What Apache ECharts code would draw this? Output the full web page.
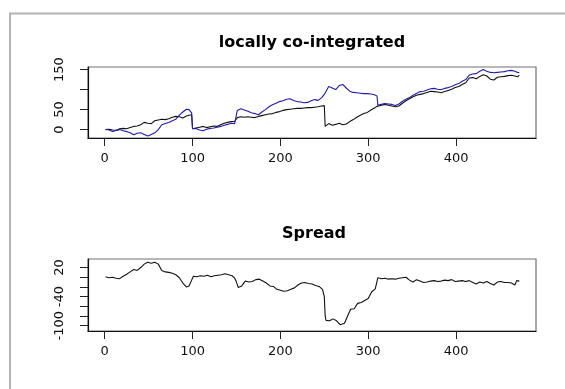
<!DOCTYPE html>
<html>
<head>
<meta charset="utf-8">
<script src="https://cdn.jsdelivr.net/npm/echarts@6/dist/echarts.min.js"></script>
<style>
  html, body { margin: 0; padding: 0; background: #ffffff; }
  #chart { width: 565px; height: 389px; }
</style>
</head>
<body>
<div id="chart"></div>
<script>
// Time index shared by the two price series (upper panel)
const pairTime = [
  1, 5, 9, 13, 17, 21, 25, 29, 33, 37, 41, 45, 49, 53, 57, 61, 65, 69, 73, 77,
  81, 85, 89, 93, 96, 99, 100, 104, 108, 112, 116, 120, 124, 128, 132, 136, 140, 144, 148, 150,
  151, 155, 159, 163, 167, 171, 175, 179, 183, 187, 191, 195, 199, 203, 207, 211, 215, 219, 223, 227,
  231, 235, 239, 243, 247, 250, 251, 255, 259, 263, 267, 271, 275, 279, 283, 287, 291, 295, 299, 303,
  307, 310, 311, 315, 319, 323, 327, 331, 335, 339, 343, 347, 351, 355, 359, 363, 367, 371, 375, 379,
  383, 387, 391, 395, 399, 403, 407, 411, 415, 419, 423, 427, 431, 435, 439, 443, 447, 451, 455, 459,
  463, 467, 470, 472
];

// First series (black)
const seriesA = [
  0, 1, -1, -2, 2, 3, 2, 5, 8, 9, 12, 18, 16, 15, 22, 24, 26, 25, 27, 31,
  33, 32, 29, 34, 36, 37, 2, 4, 6, 8, 5, 7, 9, 8, 12, 16, 18, 20, 21, 20,
  30, 32, 31, 32, 31, 30, 33, 35, 37, 39, 40, 43, 45, 48, 50, 51, 52, 53, 53, 54,
  55, 55, 56, 57, 59, 60, 8, 15, 11, 13, 16, 12, 14, 20, 25, 31, 36, 40, 43, 49,
  54, 58, 60, 61, 63, 61, 59, 57, 59, 66, 72, 77, 82, 86, 88, 90, 93, 96, 95, 94,
  92, 95, 98, 101, 105, 108, 113, 117, 129, 130, 127, 133, 137, 134, 126, 124, 131, 132, 133, 135,
  136, 134, 132, 136
];

// Second series (blue)
const seriesB = [
  1, -1, -5, -2, 0, -3, -5, -8, -13, -9, -8, -12, -16, -12, -8, 0, 12, 15, 18, 22,
  26, 36, 44, 51, 50, 42, 2, 3, -1, -3, 1, 3, 4, 6, 8, 11, 13, 16, 15, 18,
  48, 52, 49, 46, 42, 40, 37, 44, 50, 57, 62, 66, 70, 72, 76, 77, 73, 70, 69, 67,
  68, 72, 75, 73, 80, 88, 92, 108, 104, 100, 110, 113, 104, 96, 93, 92, 91, 90, 90, 89,
  87, 84, 61, 63, 65, 64, 63, 60, 64, 71, 76, 80, 86, 90, 95, 96, 99, 102, 103, 101,
  100, 103, 105, 108, 112, 115, 121, 125, 136, 139, 140, 146, 150, 146, 143, 142, 143, 144, 145, 147,
  148, 146, 143, 142
];

// Spread (lower panel)
const spreadTime = [
  1, 5, 9, 13, 17, 21, 25, 29, 33, 37, 41, 45, 49, 53, 57, 61, 65, 69, 73, 77,
  81, 85, 89, 93, 96, 99, 101, 105, 109, 113, 117, 121, 125, 129, 133, 137, 141, 145, 148, 150,
  152, 156, 160, 164, 168, 172, 176, 180, 184, 188, 192, 196, 200, 204, 208, 212, 216, 220, 224, 228,
  232, 236, 240, 244, 248, 250, 251, 252, 256, 260, 264, 268, 270, 273, 277, 280, 284, 288, 292, 296,
  300, 304, 308, 310, 311, 315, 319, 323, 327, 331, 335, 339, 343, 347, 351, 355, 359, 363, 367, 371,
  375, 379, 383, 387, 391, 395, 399, 403, 407, 411, 415, 419, 423, 427, 431, 435, 439, 443, 447, 451,
  455, 459, 463, 467, 469, 472
];
const spreadValues = [
  1, -1, 0, -2, -3, 2, 6, 11, 16, 14, 20, 27, 31, 29, 31, 27, 14, 11, 10, 8,
  5, -1, -12, -20, -18, -6, 2, 1, 3, 2, 4, 1, 3, 4, 5, 7, 5, 3, -2, -10,
  -21, -18, -8, -10, -9, -5, -4, -8, -12, -18, -19, -25, -27, -29, -28, -25, -22, -16, -12, -11,
  -13, -14, -17, -19, -25, -40, -80, -89, -90, -86, -90, -98, -102, -95, -78, -66, -65, -54, -52, -48,
  -44, -30, -24, -22, -1, -3, -2, -4, -3, -4, -2, -1, 0, -6, -10, -5, -8, -11, -10, -8,
  -7, -9, -8, -6, -7, -5, -9, -8, -7, -9, -7, -11, -14, -10, -12, -9, -13, -16, -10, -9,
  -11, -11, -12, -16, -7, -8
];

// Axis ticks and labels
const xTicks = [0, 100, 200, 300, 400];
const pairYTicks = [0, 50, 100, 150];
const pairYLabels = [0, 50, 150];
const spreadYTicks = [20, 0, -20, -40, -60, -80, -100];
const spreadYLabels = [20, -40, -100];
const panelTitles = ['locally co-integrated', 'Spread'];

const zip = (xs, ys) => xs.map((x, i) => [x, ys[i]]);

const axisFont = { fontFamily: 'DejaVu Sans', fontSize: 13, color: '#111' };

function xAxisFor(gridIndex) {
  return {
    gridIndex, type: 'value', min: -19, max: 491,
    axisLine: { show: true, onZero: false, lineStyle: { color: '#111', width: 1.2 } },
    splitLine: { show: false },
    axisTick: { show: true, length: 8, customValues: xTicks, lineStyle: { color: '#222' } },
    axisLabel: Object.assign({ customValues: xTicks, margin: 14 }, axisFont)
  };
}

function yAxisFor(gridIndex, min, max, ticks, labels) {
  return {
    gridIndex, type: 'value', min, max,
    axisLine: { show: true, onZero: false, lineStyle: { color: '#111', width: 1.2 } },
    splitLine: { show: false },
    axisTick: { show: true, length: 8, customValues: ticks, lineStyle: { color: '#222' } },
    axisLabel: Object.assign({ customValues: labels, rotate: 90, margin: 22 }, axisFont)
  };
}

const chart = echarts.init(document.getElementById('chart'), null, { renderer: 'canvas' });

chart.setOption({
  animation: false,
  backgroundColor: '#ffffff',
  grid: [
    { left: 88, top: 67, width: 448, height: 71, show: true, borderColor: '#707070', borderWidth: 1.2 },
    { left: 88, top: 259, width: 448, height: 72, show: true, borderColor: '#707070', borderWidth: 1.2 }
  ],
  xAxis: [xAxisFor(0), xAxisFor(1)],
  yAxis: [
    yAxisFor(0, -21, 156.5, pairYTicks, pairYLabels),
    yAxisFor(1, -111, 37.6, spreadYTicks, spreadYLabels)
  ],
  graphic: [
    {
      type: 'polyline', silent: true,
      shape: { points: [[10, 389], [10, 13.5], [565, 13.5]] },
      style: { stroke: '#b4b4b4', lineWidth: 2, fill: null }
    },
    {
      type: 'text', x: 312, y: 42.5, silent: true,
      style: { text: panelTitles[0], fontFamily: 'DejaVu Sans', fontWeight: 'bold', fontSize: 16,
               fill: '#000', align: 'center', verticalAlign: 'middle' }
    },
    {
      type: 'text', x: 314, y: 233.5, silent: true,
      style: { text: panelTitles[1], fontFamily: 'DejaVu Sans', fontWeight: 'bold', fontSize: 16,
               fill: '#000', align: 'center', verticalAlign: 'middle' }
    }
  ],
  series: [
    {
      type: 'line', xAxisIndex: 0, yAxisIndex: 0, data: zip(pairTime, seriesA),
      showSymbol: false, lineStyle: { color: '#111111', width: 1.1 }
    },
    {
      type: 'line', xAxisIndex: 0, yAxisIndex: 0, data: zip(pairTime, seriesB),
      showSymbol: false, lineStyle: { color: '#1e1ea6', width: 1.1 }
    },
    {
      type: 'line', xAxisIndex: 1, yAxisIndex: 1, data: zip(spreadTime, spreadValues),
      showSymbol: false, lineStyle: { color: '#111111', width: 1.1 }
    }
  ]
});
</script>
</body>
</html>
